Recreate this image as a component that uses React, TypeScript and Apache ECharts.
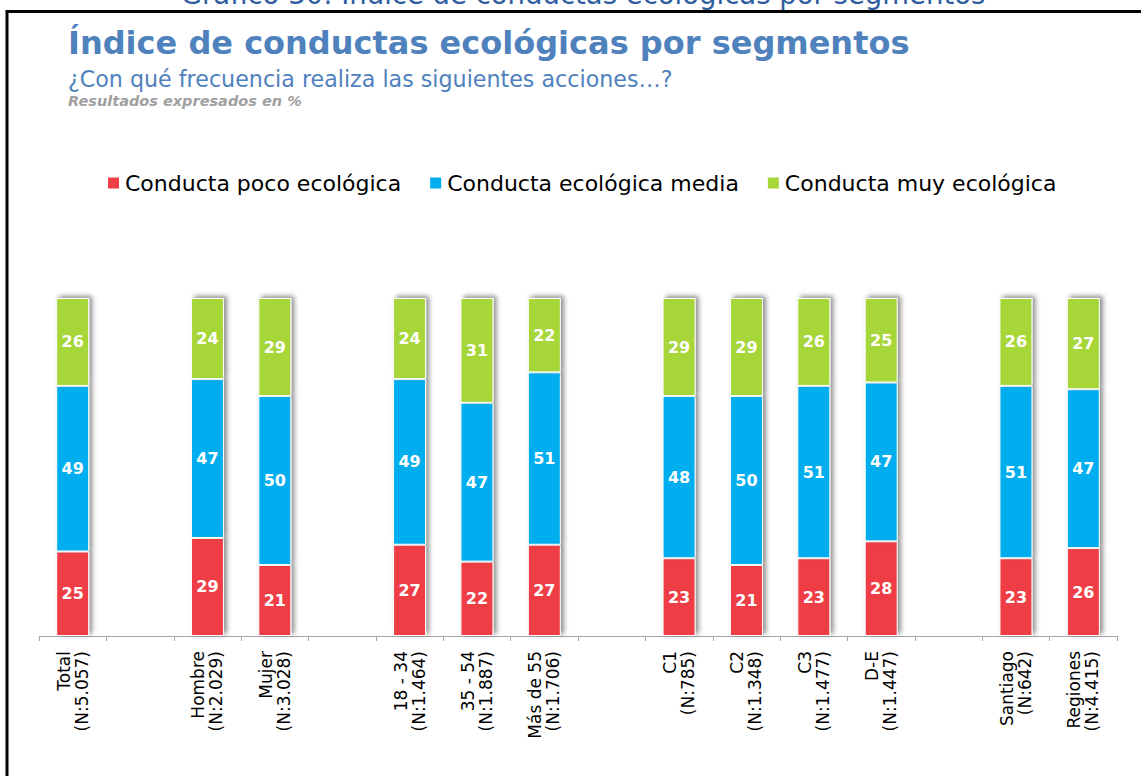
import React, { useEffect, useRef } from "react";
import * as echarts from "echarts";

const categories = [
  "Total\n(N:5.057)",
  "",
  "Hombre\n(N:2.029)",
  "Mujer\n(N:3.028)",
  "",
  "18 - 34\n(N:1.464)",
  "35 - 54\n(N:1.887)",
  "Más de 55\n(N:1.706)",
  "",
  "C1\n(N:785)",
  "C2\n(N:1.348)",
  "C3\n(N:1.477)",
  "D-E\n(N:1.447)",
  "",
  "Santiago\n(N:642)",
  "Regiones\n(N:4.415)",
];

const pocoEcologica = [25, "-", 29, 21, "-", 27, 22, 27, "-", 23, 21, 23, 28, "-", 23, 26];
const ecologicaMedia = [49, "-", 47, 50, "-", 49, 47, 51, "-", 48, 50, 51, 47, "-", 51, 47];
const muyEcologica = [26, "-", 24, 29, "-", 24, 31, 22, "-", 29, 29, 26, 25, "-", 26, 27];

const seriesNames = ["Conducta poco ecológica", "Conducta ecológica media", "Conducta muy ecológica"];
const seriesColors = ["#EF3E44", "#00AEEF", "#A6D637"];

const FONT = "DejaVu Sans";

export default function App() {
  const ref = useRef<HTMLDivElement>(null);

  useEffect(() => {
    if (!ref.current) return;
    const chart = echarts.init(ref.current, undefined, { renderer: "svg" });
    const mk = (name: string, data: any[], color: string) => ({
      name,
      type: "bar",
      stack: "total",
      data,
      barWidth: 33,
      itemStyle: {
        color,
        borderColor: "#ffffff",
        borderWidth: 1,
        shadowColor: "rgba(0,0,0,0.45)",
        shadowBlur: 5,
        shadowOffsetX: 3,
        shadowOffsetY: -2,
      },
      label: {
        show: true,
        position: "inside",
        color: "#ffffff",
        fontFamily: FONT,
        fontWeight: "bold",
        fontSize: 16,
      },
    });

    chart.setOption({
      animation: false,
      backgroundColor: "#ffffff",
      graphic: [
        {
          type: "text",
          x: 583,
          y: -6,
          style: {
            text: "Gráfico 30: Índice de conductas ecológicas por segmentos",
            fill: "#2F5DA0",
            font: `27.5px "${FONT}"`,
            textAlign: "center",
            verticalAlign: "middle",
          },
        },
        {
          type: "line",
          shape: { x1: 7, y1: 10, x2: 7, y2: 776 },
          style: { stroke: "#000", lineWidth: 3 },
        },
        {
          type: "line",
          shape: { x1: 6, y1: 11.5, x2: 1141, y2: 11.5 },
          style: { stroke: "#000", lineWidth: 3 },
        },
        {
          type: "text",
          x: 68,
          y: 43,
          style: {
            text: "Índice de conductas ecológicas por segmentos",
            fill: "#4F81BD",
            font: `bold 32px "${FONT}"`,
            verticalAlign: "middle",
          },
        },
        {
          type: "text",
          x: 68,
          y: 79,
          style: {
            text: "¿Con qué frecuencia realiza las siguientes acciones…?",
            fill: "#4F81BD",
            font: `22.2px "${FONT}"`,
            verticalAlign: "middle",
          },
        },
        {
          type: "text",
          x: 68,
          y: 101,
          style: {
            text: "Resultados expresados en %",
            fill: "#A0A0A0",
            font: `italic bold 14.5px "${FONT}"`,
            verticalAlign: "middle",
          },
        },
      ],
      legend: {
        left: 106,
        top: 172,
        padding: 0,
        itemWidth: 13,
        itemHeight: 13,
        itemGap: 27,
        icon: "rect",
        textStyle: { fontFamily: FONT, fontSize: 22, color: "#000" },
        data: seriesNames,
      },
      grid: { left: 39, right: 24, top: 298, bottom: 140 },
      xAxis: {
        type: "category",
        data: categories,
        axisLine: { lineStyle: { color: "#A6A6A6", width: 1 } },
        axisTick: { show: true, interval: 0, length: 5, lineStyle: { color: "#A6A6A6" } },
        axisLabel: {
          interval: 0,
          rotate: 90,
          margin: 15,
          fontFamily: FONT,
          fontSize: 17,
          lineHeight: 18,
          color: "#000",
        },
      },
      yAxis: {
        type: "value",
        min: 0,
        max: 100,
        show: false,
        splitLine: { show: false },
      },
      series: [
        mk(seriesNames[0], pocoEcologica, seriesColors[0]),
        mk(seriesNames[1], ecologicaMedia, seriesColors[1]),
        mk(seriesNames[2], muyEcologica, seriesColors[2]),
      ],
    });
    return () => chart.dispose();
  }, []);

  return (
    <div
      ref={ref}
      style={{ position: "absolute", left: 0, top: 0, width: 1141, height: 776, background: "#fff" }}
    />
  );
}
